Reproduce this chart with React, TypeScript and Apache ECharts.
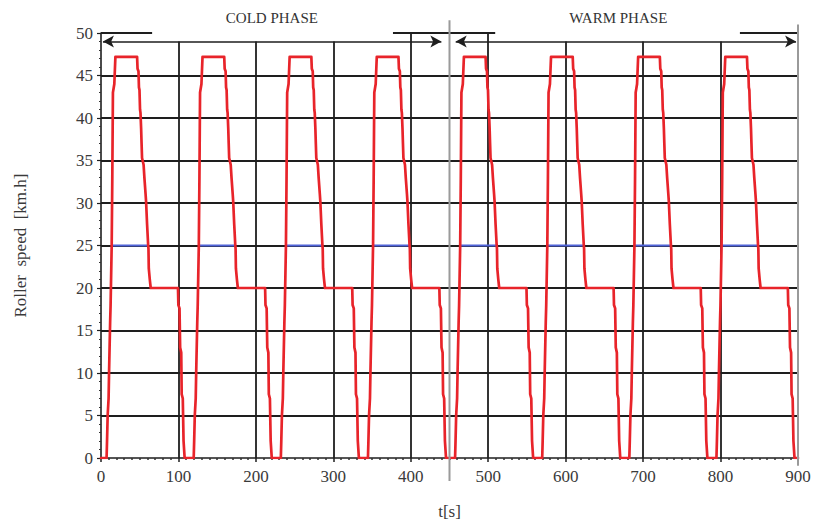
import React, { useEffect, useRef } from "react";
import * as echarts from "echarts";

// One driving cycle (relative time [s], roller speed [km/h])
const cycleTime = [0, 7.2, 7.8, 8.6, 9.8, 10.4, 11.8, 12.4, 13.8, 14.6, 15.4, 17.2, 18.6,
  46.6, 47.2, 48.4, 49.0, 49.7, 50.4, 51.0, 51.8, 52.4, 53.0, 55.0, 56.1, 57.6, 58.2, 59.5, 60.8, 61.3, 61.7, 63.0, 64.2,
  99.4, 99.9, 101.4, 102.2, 103.6, 104.2, 105.6, 106.6, 108.0];
const cycleSpeed = [0, 0, 2, 5, 7, 10, 16, 18, 25, 33, 43, 44, 47.2,
  47.2, 45.8, 45.5, 43.6, 43.3, 41, 40.6, 38.8, 37, 35.3, 34.5, 32.9, 31, 30.2, 27.5, 25.2, 24.6, 22.3, 21, 20,
  20, 18, 17.6, 13, 12.4, 7.5, 7, 2, 0];
// start time of each of the 8 repeated cycles
const cycleStarts = [0, 112.5, 225, 337.5, 450, 562.5, 675, 787.5];
const endTime = 900;
// blue 25 km/h reference segment within each cycle (relative time)
const blueFrom = 13.8;
const blueTo = 61.0;
const blueLevel = 25;

const xGrid = [100, 200, 300, 400, 500, 600, 700, 800];
const xGridTop = [49, 49, 49, 50, 50, 49, 49, 49];
const yGrid = [5, 10, 15, 20, 25, 30, 35, 40, 45];
const topSegments = [[0, 66], [377, 509], [825, 900]];
const arrowLevel = 49;
const arrows = [[2.5, 439.5], [458, 897.5]];
const phaseLabels = ["COLD PHASE", "WARM PHASE"];
const phaseLabelT = [220.6, 668];
const phaseSplit = 450;

const FONT = "Liberation Serif";

export default function App() {
  const ref = useRef<HTMLDivElement>(null);
  useEffect(() => {
    document.body.style.margin = "0";
    const chart = echarts.init(ref.current!, null, { renderer: "svg" });

    const red: any[] = [];
    cycleStarts.forEach((s) => {
      cycleTime.forEach((t, i) => red.push([s + t, cycleSpeed[i]]));
    });
    red.push([endTime, 0]);

    const blue: any[] = [];
    cycleStarts.forEach((s) => {
      blue.push([s + blueFrom, blueLevel]);
      blue.push([s + blueTo, blueLevel]);
      blue.push([s + (blueTo + 1), "-"]);
    });

    const gridStyle = { color: "#1e1e1e", width: 1.8, type: "solid" as const };
    const markData: any[] = [];
    yGrid.forEach((y) => markData.push([{ coord: [0, y] }, { coord: [endTime, y] }]));
    xGrid.forEach((x, i) => markData.push([{ coord: [x, 0] }, { coord: [x, xGridTop[i]] }]));
    topSegments.forEach((seg) => markData.push([{ coord: [seg[0], 50] }, { coord: [seg[1], 50] }]));

    const arrowData: any[] = arrows.map((a) => [{ coord: [a[0], arrowLevel] }, { coord: [a[1], arrowLevel] }]);

    chart.setOption({
      animation: false,
      grid: { left: 101, right: 16, top: 33, bottom: 65, containLabel: false },
      xAxis: {
        type: "value",
        min: 0,
        max: 900,
        interval: 100,
        name: "t[s]",
        nameLocation: "middle",
        nameGap: 45,
        nameTextStyle: { fontFamily: FONT, fontSize: 17, color: "#3a3a3a" },
        axisLine: { show: true, lineStyle: { color: "#1e1e1e", width: 1.6 } },
        axisTick: { show: true, length: 4, lineStyle: { color: "#1e1e1e", width: 1.5 } },
        minorTick: { show: true, splitNumber: 10, length: 2, lineStyle: { color: "#333", width: 1.5 } },
        axisLabel: { fontFamily: FONT, fontSize: 17, color: "#3a3a3a", margin: 10 },
        splitLine: { show: false },
      },
      yAxis: {
        type: "value",
        min: 0,
        max: 50,
        interval: 5,
        name: "Roller  speed  [km.h]",
        nameLocation: "middle",
        nameGap: 72,
        nameRotate: 90,
        nameTextStyle: { fontFamily: FONT, fontSize: 17, color: "#3a3a3a" },
        axisLine: { show: true, lineStyle: { color: "#1e1e1e", width: 1.6 } },
        axisTick: { show: true, length: 4, lineStyle: { color: "#1e1e1e", width: 1.2 } },
        minorTick: { show: true, splitNumber: 5, length: 2, lineStyle: { color: "#333", width: 1.2 } },
        axisLabel: { fontFamily: FONT, fontSize: 17, color: "#3a3a3a", margin: 8 },
        splitLine: { show: false },
      },
      series: [
        {
          type: "line",
          data: [],
          z: 1,
          silent: true,
          markLine: {
            silent: true,
            z: 1,
            symbol: ["none", "none"],
            label: { show: false },
            lineStyle: gridStyle,
            data: markData,
          },
        },
        {
          type: "line",
          data: [],
          z: 2,
          silent: true,
          markLine: {
            silent: true,
            z: 2,
            symbol: ["arrow", "arrow"],
            symbolSize: [9, 11],
            label: { show: false },
            lineStyle: { color: "#1e1e1e", width: 1.6, type: "solid" },
            data: arrowData,
          },
        },
        {
          type: "line",
          data: blue,
          z: 8,
          showSymbol: false,
          connectNulls: false,
          lineStyle: { color: "#4f63d8", width: 1.8 },
        },
        {
          type: "line",
          data: red,
          z: 9,
          showSymbol: false,
          lineStyle: { color: "#e8242a", width: 2.7, join: "round", cap: "round" },
        },
      ],
    });

    const px = (x: number, y: number) =>
      chart.convertToPixel({ xAxisIndex: 0, yAxisIndex: 0 }, [x, y]) as number[];
    const gTop = px(phaseSplit, 51.5);
    const gBot = px(phaseSplit, -2.7);
    const rTop = px(endTime, 51.0);
    const rBot = px(endTime, -0.9);
    const graphics: any[] = [
      {
        type: "line",
        shape: { x1: gTop[0], y1: gTop[1], x2: gBot[0], y2: gBot[1] },
        style: { stroke: "#9a9a9a", lineWidth: 2 },
        z: 10,
      },
      {
        type: "line",
        shape: { x1: rTop[0], y1: rTop[1], x2: rBot[0], y2: rBot[1] },
        style: { stroke: "#9a9a9a", lineWidth: 2 },
        z: 10,
      },
    ];
    phaseLabels.forEach((label, i) => {
      const p = px(phaseLabelT[i], 51.8);
      graphics.push({
        type: "text",
        x: p[0],
        y: p[1],
        style: {
          text: label,
          fontFamily: FONT,
          fontSize: 15,
          fill: "#333",
          align: "center",
          verticalAlign: "middle",
        },
        z: 10,
      });
    });
    chart.setOption({ graphic: graphics });

    return () => chart.dispose();
  }, []);
  return <div ref={ref} style={{ width: 814, height: 525 }} />;
}
